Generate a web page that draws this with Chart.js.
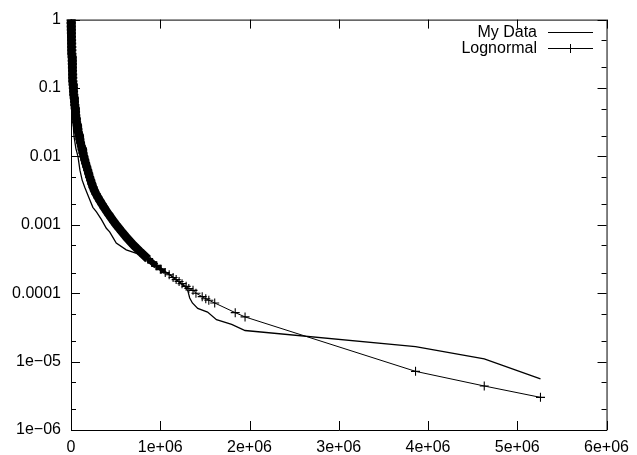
<!DOCTYPE html>
<html>
<head>
<meta charset="utf-8">
<script src="https://cdn.jsdelivr.net/npm/chart.js@4.4.1/dist/chart.umd.min.js"></script>
<style>
  body { margin: 0; background: #fff; }
</style>
</head>
<body>
<canvas id="chart" width="637" height="455"></canvas>
<script>
// axis ticks
const xTicks = [0, 1e6, 2e6, 3e6, 4e6, 5e6, 6e6];
const xTickLabels = ["0", "1e+06", "2e+06", "3e+06", "4e+06", "5e+06", "6e+06"];
const yTicks = [1e-6, 1e-5, 1e-4, 1e-3, 1e-2, 1e-1, 1];
const yTickLabels = ["1e\u221206", "1e\u221205", "0.0001", "0.001", "0.01", "0.1", "1"];

// "My Data" curve
const myDataX = [0, 3e3, 8e3, 1.7e4, 3.3e4, 5.5e4, 7.8e4, 1.0e5, 1.25e5, 1.55e5, 2.0e5, 2.45e5, 2.85e5,
    3.4e5, 3.96e5, 4.33e5, 5.07e5, 6.19e5, 7.67e5, 8.4e5, 9.5e5, 1.1e6, 1.29e6, 1.31e6, 1.33e6,
    1.36e6, 1.42e6, 1.53e6, 1.63e6, 1.80e6, 1.95e6, 3.86e6, 4.63e6, 5.26e6];
const myDataY = [1, 0.3, 0.1, 0.044, 0.02, 0.013, 0.01, 0.0063, 0.0045, 0.0035, 0.0025, 0.0018, 0.00155,
    0.0012, 0.00089, 0.00079, 0.00054, 0.00043, 0.00037, 0.00033, 0.00025, 0.00019, 0.00012, 1.07e-4, 8.5e-5,
    7.2e-5, 6.0e-5, 5.3e-5, 4.1e-5, 3.5e-5, 2.85e-5, 1.66e-5, 1.1e-5, 5.6e-6];

// "Lognormal" points (dense near the top, sparse in the tail)
const lognormX = [0, 1.1e3, 2.2e3, 3.3e3, 4.4e3, 5.6e3, 6.7e3, 7.8e3, 8.9e3, 1.0e4,
    1.11e4, 1.22e4, 1.33e4, 1.44e4, 1.56e4, 1.72e4, 1.89e4, 2.0e4, 2.17e4, 2.33e4,
    2.6e4, 2.9e4, 3.2e4, 3.6e4, 3.9e4, 4.3e4, 4.7e4, 5.1e4, 5.4e4, 5.9e4,
    6.3e4, 7.0e4, 7.7e4, 8.3e4, 9.1e4, 9.9e4, 1.07e5, 1.16e5, 1.24e5, 1.34e5,
    1.44e5, 1.54e5, 1.64e5, 1.76e5, 1.87e5, 1.98e5, 2.09e5, 2.21e5, 2.33e5, 2.47e5,
    2.62e5, 2.81e5, 3.02e5, 3.24e5, 3.48e5, 3.72e5, 3.98e5, 4.24e5, 4.51e5, 4.78e5,
    5.07e5, 5.37e5, 5.68e5, 6.0e5, 6.32e5, 6.67e5, 7.03e5, 7.42e5, 7.81e5, 8.22e5,
    8.64e5, 9.09e5, 9.56e5, 1.006e6, 1.056e6,
    1.1e6, 1.144e6, 1.178e6, 1.211e6, 1.244e6, 1.29e6, 1.32e6, 1.367e6, 1.4e6,
    1.47e6, 1.51e6, 1.544e6, 1.61e6, 1.84e6, 1.95e6, 3.86e6, 4.63e6, 5.26e6];
const lognormY = [1, 0.891, 0.794, 0.708, 0.631, 0.562, 0.501, 0.447, 0.398, 0.355,
    0.316, 0.282, 0.251, 0.224, 0.2, 0.178, 0.158, 0.141, 0.126, 0.112,
    0.1, 0.0891, 0.0794, 0.0708, 0.0631, 0.0562, 0.0501, 0.0447, 0.0398, 0.0355,
    0.0316, 0.0282, 0.0251, 0.0224, 0.02, 0.0178, 0.0158, 0.0141, 0.0126, 0.0112,
    0.01, 0.00891, 0.00794, 0.00708, 0.00631, 0.00562, 0.00501, 0.00447, 0.00398, 0.00355,
    0.00316, 0.00282, 0.00251, 0.00224, 0.002, 0.00178, 0.00158, 0.00141, 0.00126, 0.00112,
    0.001, 8.91e-4, 7.94e-4, 7.08e-4, 6.31e-4, 5.62e-4, 5.01e-4, 4.47e-4, 3.98e-4, 3.55e-4,
    3.16e-4, 2.82e-4, 2.51e-4, 2.24e-4, 2.0e-4,
    1.86e-4, 1.70e-4, 1.58e-4, 1.48e-4, 1.38e-4, 1.26e-4, 1.17e-4, 1.10e-4, 1.0e-4,
    8.9e-5, 8.3e-5, 7.9e-5, 7.2e-5, 5.2e-5, 4.5e-5, 7.2e-6, 4.4e-6, 3.0e-6];

const myData = myDataX.map((x, i) => ({ x: x, y: myDataY[i] }));
const lognorm = lognormX.map((x, i) => ({ x: x, y: lognormY[i] }));

const fontFamily = '"Liberation Sans", Arial, Helvetica, sans-serif';
const majorTick = 9;
const minorTick = 5;

// gnuplot style border, inward ticks on all four sides, and the key
const gnuplotFrame = {
    id: 'gnuplotFrame',
    beforeDatasetsDraw(chart) {
        const { ctx, chartArea: a, scales } = chart;
        const x = scales.x, y = scales.y;
        ctx.save();
        ctx.strokeStyle = '#000';
        ctx.lineWidth = 1;
        ctx.beginPath();
        ctx.rect(a.left + 0.5, a.top + 0.5, a.right - a.left, a.bottom - a.top);
        xTicks.forEach(v => {
            const px = Math.round(x.getPixelForValue(v)) + 0.5;
            ctx.moveTo(px, a.bottom); ctx.lineTo(px, a.bottom - majorTick);
            ctx.moveTo(px, a.top); ctx.lineTo(px, a.top + majorTick);
        });
        yTicks.forEach(v => {
            const py = Math.round(y.getPixelForValue(v)) + 0.5;
            ctx.moveTo(a.left, py); ctx.lineTo(a.left + majorTick, py);
            ctx.moveTo(a.right, py); ctx.lineTo(a.right - majorTick, py);
            [2, 5].forEach(m => {
                if (v * m >= 1) return;
                const pm = Math.round(y.getPixelForValue(v * m)) + 0.5;
                ctx.moveTo(a.left, pm); ctx.lineTo(a.left + minorTick, pm);
                ctx.moveTo(a.right, pm); ctx.lineTo(a.right - minorTick, pm);
            });
        });
        ctx.stroke();
        ctx.restore();
    },
    afterDraw(chart) {
        const ctx = chart.ctx;
        ctx.save();
        ctx.font = '16px ' + fontFamily;
        ctx.fillStyle = '#000';
        ctx.strokeStyle = '#000';
        ctx.textAlign = 'right';
        ctx.textBaseline = 'middle';
        chart.data.datasets.forEach((ds, i) => {
            const yy = 32.5 + i * 16;
            ctx.fillText(ds.label, 537, yy);
            ctx.lineWidth = 1;
            ctx.beginPath();
            ctx.moveTo(548, yy); ctx.lineTo(593, yy);
            if (ds.pointStyle === 'cross') {
                ctx.moveTo(570.5 - 4.5, yy); ctx.lineTo(570.5 + 4.5, yy);
                ctx.moveTo(570.5, yy - 4.5); ctx.lineTo(570.5, yy + 4.5);
            }
            ctx.stroke();
        });
        ctx.restore();
    }
};

// the many overlapping markers near the top read as one solid band
function bandWidth(c) {
    const yv = c.p0.parsed.y;
    if (yv > 3.5e-4) return 8.5;
    if (yv > 2.6e-4) return 6;
    if (yv > 2.0e-4) return 3.5;
    return 1;
}

Chart.defaults.font.family = fontFamily;
Chart.defaults.font.size = 16;
Chart.defaults.color = '#000';

new Chart(document.getElementById('chart'), {
    type: 'scatter',
    data: {
        datasets: [{
            label: 'My Data',
            data: myData,
            showLine: true,
            borderColor: '#000',
            borderWidth: 1.3,
            pointRadius: 0,
            tension: 0,
            order: 2
        }, {
            label: 'Lognormal',
            data: lognorm,
            showLine: true,
            borderColor: '#000',
            borderWidth: 1,
            borderJoinStyle: 'round',
            segment: { borderWidth: bandWidth },
            pointStyle: 'cross',
            pointRadius: 4.5,
            pointBorderColor: '#000',
            pointBorderWidth: c => (c.raw && c.raw.y > 2.1e-4 ? 2 : 1.1),
            tension: 0,
            clip: { left: 6, top: 0, right: 0, bottom: 0 },
            order: 1
        }]
    },
    options: {
        responsive: false,
        animation: false,
        layout: { padding: { left: 0, top: 16, right: 26, bottom: 0 } },
        plugins: {
            legend: { display: false },
            tooltip: { enabled: false }
        },
        scales: {
            x: {
                type: 'linear',
                min: 0,
                max: 6e6,
                grid: { display: false, drawTicks: false },
                border: { display: false },
                afterBuildTicks: s => { s.ticks = xTicks.map(v => ({ value: v })); },
                afterFit: s => { s.height = 25; },
                ticks: {
                    padding: 8,
                    maxRotation: 0,
                    autoSkip: false,
                    callback: (v, i) => xTickLabels[i]
                }
            },
            y: {
                type: 'logarithmic',
                min: 1e-6,
                max: 1,
                grid: { display: false, drawTicks: false },
                border: { display: false },
                afterBuildTicks: s => { s.ticks = yTicks.map(v => ({ value: v })); },
                afterFit: s => { s.width = 71; },
                ticks: {
                    padding: 10,
                    autoSkip: false,
                    callback: (v, i) => yTickLabels[i]
                }
            }
        }
    },
    plugins: [gnuplotFrame]
});
</script>
</body>
</html>
